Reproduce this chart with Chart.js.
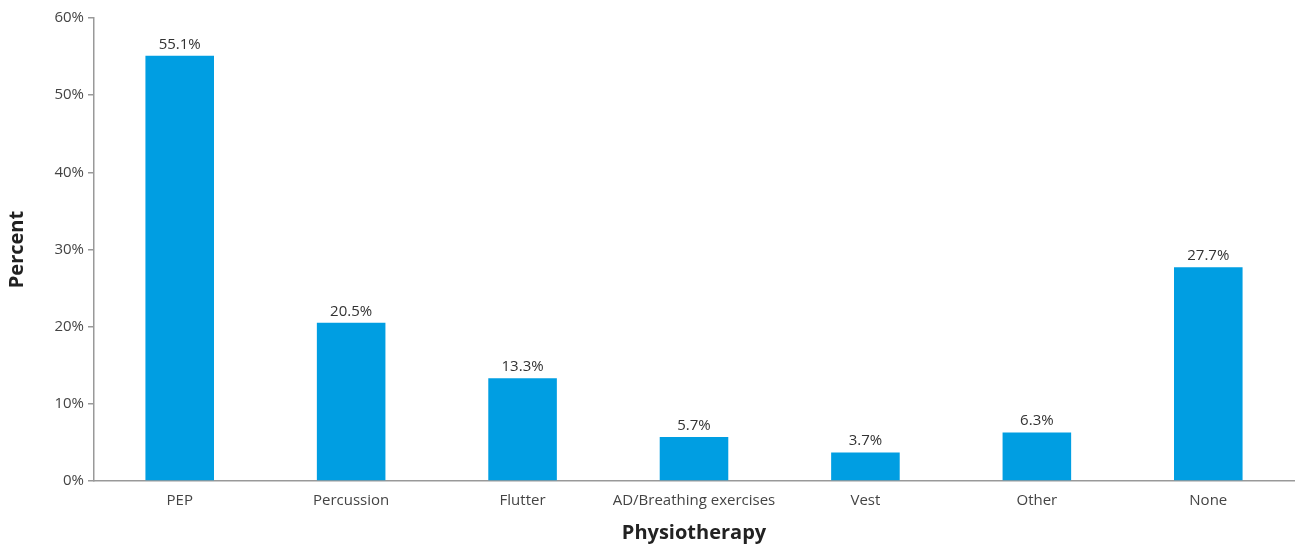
<!DOCTYPE html>
<html>
<head>
<meta charset="utf-8">
<script src="https://cdn.jsdelivr.net/npm/chart.js@4.4.1/dist/chart.umd.min.js"></script>
<style>
html,body{margin:0;padding:0;background:#fff;}
#wrap{width:1299px;height:545px;position:relative;}
</style>
</head>
<body>
<div id="wrap"><canvas id="c"></canvas></div>
<script>
const categories = ["PEP", "Percussion", "Flutter", "AD/Breathing exercises", "Vest", "Other", "None"];
const percentValues = [55.1, 20.5, 13.3, 5.7, 3.7, 6.3, 27.7];
const yTickValues = [0, 10, 20, 30, 40, 50, 60];

const FONT = "'Open Sans', 'Noto Sans', sans-serif";

const valueLabels = {
  id: 'valueLabels',
  afterDatasetsDraw(chart) {
    const ctx = chart.ctx;
    const meta = chart.getDatasetMeta(0);
    ctx.save();
    ctx.font = "15px " + FONT;
    ctx.fillStyle = "#333";
    ctx.textAlign = "center";
    ctx.textBaseline = "bottom";
    meta.data.forEach((bar, i) => {
      ctx.fillText(percentValues[i].toFixed(1) + "%", bar.x, bar.y - 4);
    });
    ctx.restore();
  }
};

new Chart(document.getElementById('c'), {
  type: 'bar',
  data: {
    labels: categories,
    datasets: [{
      data: percentValues,
      backgroundColor: '#009EE2',
      borderWidth: 0,
      barPercentage: 0.4,
      categoryPercentage: 1.0
    }]
  },
  options: {
    responsive: true,
    maintainAspectRatio: false,
    animation: false,
    layout: { padding: { top: 18, right: 5, left: 0, bottom: 0 } },
    plugins: { legend: { display: false }, tooltip: { enabled: false } },
    scales: {
      x: {
        grid: { display: false, drawTicks: false },
        border: { color: '#999', width: 1.5 },
        ticks: { color: '#444', font: { family: FONT, size: 15 }, padding: 11, maxRotation: 0 },
        title: { display: true, text: 'Physiotherapy', color: '#222', font: { family: FONT, size: 20, weight: 'bold' }, padding: { top: 4, bottom: 0 } },
        afterFit(scale) { scale.height = 64; }
      },
      y: {
        min: 0, max: 60,
        afterBuildTicks(scale) { scale.ticks = yTickValues.map(v => ({ value: v })); },
        grid: { drawOnChartArea: false, drawTicks: true, tickLength: 6, color: '#999', lineWidth: 1.5 },
        border: { color: '#999', width: 1.5 },
        ticks: { color: '#444', font: { family: FONT, size: 15 }, padding: 4, callback: v => v + '%' },
        title: { display: true, text: 'Percent', color: '#222', font: { family: FONT, size: 20, weight: 'bold' }, padding: { top: 5, bottom: 4 } },
        afterFit(scale) { scale.width = 94; }
      }
    }
  },
  plugins: [valueLabels]
});
</script>
</body>
</html>
